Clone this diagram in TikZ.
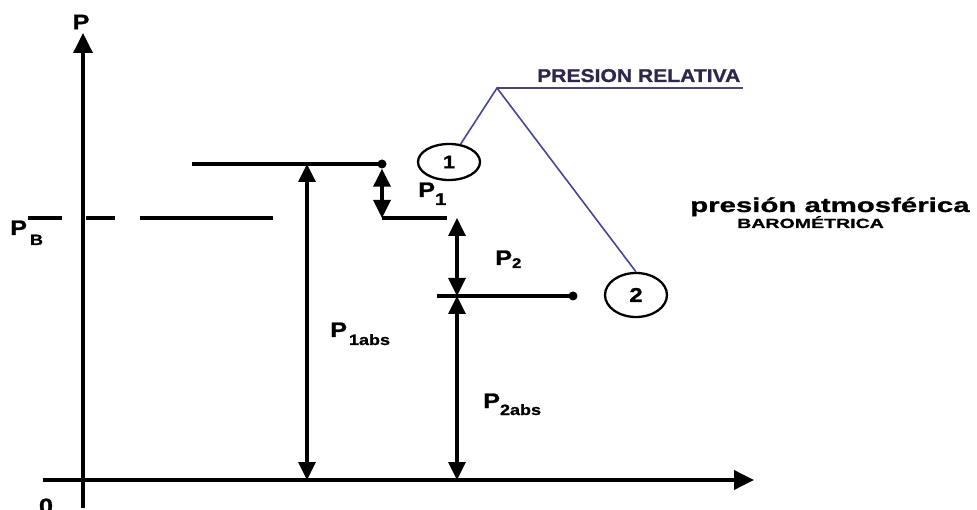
\documentclass[tikz,border=0pt]{standalone}
\usepackage{fontspec}
\newfontfamily\wfa[FakeStretch=1.2,FakeBold=1.2]{Liberation Sans}
\newfontfamily\wfb[FakeStretch=1.47,FakeBold=1]{Liberation Sans}
\newfontfamily\wfc[FakeStretch=1.14,FakeBold=1]{Liberation Sans}
\usetikzlibrary{arrows.meta,shapes.geometric}
\definecolor{relblue}{RGB}{70,70,145}
\definecolor{reltext}{RGB}{45,40,75}
\definecolor{relline}{RGB}{75,70,120}
\newcommand{\fs}[1]{\fontsize{#1}{#1}\selectfont}
\begin{document}
\begin{tikzpicture}[x=1pt,y=-1pt,
  axis/.style={line width=3.6pt, -{Triangle[length=20pt,width=19pt]}},
  dim/.style={line width=3.4pt, {Triangle[length=18pt,width=17pt]}-{Triangle[length=18pt,width=17pt]}},
  level/.style={line width=3.2pt},
  lbl/.style={anchor=base west, inner sep=0pt},
  bub/.style={ellipse, draw, line width=2.3pt, inner sep=0pt},
  blueline/.style={draw=relblue, line width=1.6pt},
  dot/.style={circle, fill, inner sep=0pt, minimum size=9pt},
]
\useasboundingbox (0,0) rectangle (977,510);

% axes
\coordinate (ybot) at (83,508);
\coordinate (ytop) at (83,33);
\coordinate (xleft) at (43,480);
\coordinate (xright) at (754,480);
\draw[axis] (ybot) -- (ytop);
\draw[axis] (xleft) -- (xright);
\node[inner sep=0pt] (plab) at (81,22) {\wfa\bfseries\fs{21}P};
\node[inner sep=0pt] (zero) at (46,506) {\wfa\bfseries\fs{21}0};

% P_B dashed level
\coordinate (b1) at (28,218);
\coordinate (b2) at (62,218);
\coordinate (b3) at (86,218);
\coordinate (b4) at (115,218);
\coordinate (b5) at (140,218);
\coordinate (b6) at (273,218);
\draw[level] (b1) -- (b2);
\draw[level] (b3) -- (b4);
\draw[level] (b5) -- (b6);
\node[lbl] (pb) at (10,235) {\wfa\bfseries\fs{21}P\hspace{3pt}\raisebox{-10pt}{\fs{15}B}};

% level 1
\coordinate (l1a) at (192,164);
\node[dot] (d1) at (382,164) {};
\draw[level] (l1a) -- (d1.center);
\coordinate (p1abstop) at (307,164);
\coordinate (p1absbot) at (307,480);
\draw[dim] (p1abstop) -- (p1absbot);
\coordinate (p1bot) at (382,218);
\draw[dim] (d1.south) -- (p1bot);
\coordinate (lbend) at (447,218);
\draw[level] (p1bot) -- (lbend);

% level 2
\coordinate (p2top) at (457,218);
\coordinate (p2mid) at (457,296);
\coordinate (p2bot) at (457,480);
\draw[dim] (p2top) -- (p2mid);
\draw[dim] (p2mid) -- (p2bot);
\coordinate (l2a) at (437,296);
\node[dot] (d2) at (573,296) {};
\draw[level] (l2a) -- (d2.center);

% bubbles
\node[bub, minimum width=62pt, minimum height=36pt] (c1) at (449,162) {\wfa\bfseries\fs{18}1};
\node[bub, minimum width=62pt, minimum height=44pt] (c2) at (636,295) {\wfa\bfseries\fs{20}2};

% relative pressure callout
\coordinate (apex) at (497,88);
\coordinate (ulend) at (743,88);
\node[lbl, text=reltext] (rel) at (537,82) {\wfc\bfseries\fs{18.5}PRESION RELATIVA};
\draw[blueline] (c1) -- (apex) -- (c2.north);
\draw[draw=relline, line width=2.2pt] (apex) -- (ulend);

% labels
\node[lbl] (p1) at (418,197) {\wfa\bfseries\fs{21}P\raisebox{-8pt}{\fs{17}1}};
\node[lbl] (p2) at (495,265) {\wfa\bfseries\fs{21}P\raisebox{-3pt}{\fs{14}2}};
\node[lbl] (p1abs) at (330,337) {\wfa\bfseries\fs{21}P\hspace{2pt}\raisebox{-8pt}{\fs{15}1abs}};
\node[lbl] (p2abs) at (483,408) {\wfa\bfseries\fs{21}P\raisebox{-7pt}{\fs{15}2abs}};

\node[lbl] (atm) at (690,212) {\wfb\bfseries\fs{20}presión atmosférica};
\node[lbl] (baro) at (737,228) {\wfb\bfseries\fs{13.3}BAROMÉTRICA};
\end{tikzpicture}
\end{document}
